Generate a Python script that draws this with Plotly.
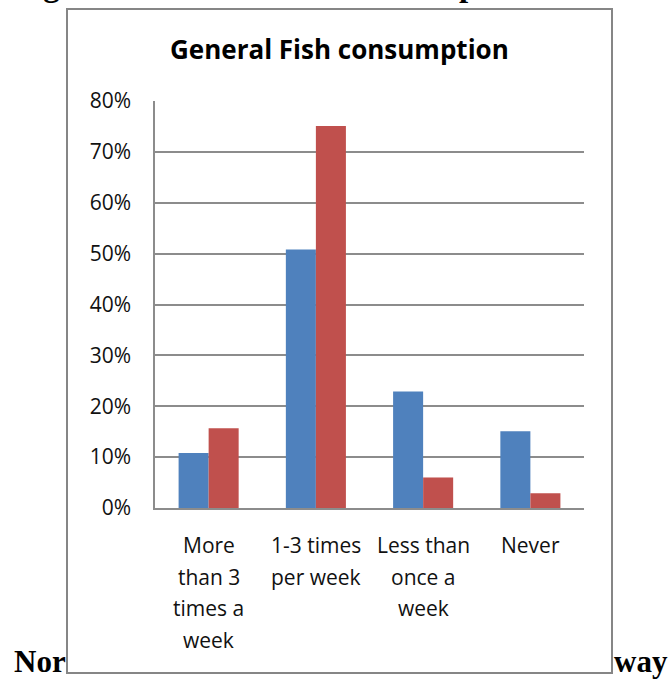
import plotly.graph_objects as go

# Survey answers: how often fish is eaten
categories = ["More than 3 times a week", "1-3 times per week", "Less than once a week", "Never"]
category_lines = [
    ["More", "than 3", "times a", "week"],
    ["1-3 times", "per week"],
    ["Less than", "once a", "week"],
    ["Never"],
]
series_a = [0.108, 0.508, 0.229, 0.151]
series_b = [0.157, 0.751, 0.060, 0.029]
y_ticks = [0, 0.1, 0.2, 0.3, 0.4, 0.5, 0.6, 0.7, 0.8]

W, H = 669, 680
L, R, T, B = 155, 85, 101, 172
PW, PH = W - L - R, H - T - B

def px(x):
    return (x - L) / PW

def py(y):
    return (H - B - y) / PH

FONT = "Open Sans"
GRID = "#8c8c8c"

fig = go.Figure()
fig.add_bar(x=categories, y=series_a, marker=dict(color="#4F81BD", line=dict(width=0)))
fig.add_bar(x=categories, y=series_b, marker=dict(color="#C0504D", line=dict(width=0)))

annotations = []
for cat, lines in zip(categories, category_lines):
    for j, line in enumerate(lines):
        annotations.append(dict(
            x=cat, y=0, xref="x", yref="y", text=line, showarrow=False,
            yanchor="middle", xanchor="center", yshift=-(37 + j * 31.7),
            font=dict(family=FONT, size=21, color="#111"),
        ))

# Chart title, centred in the framed box
annotations.append(dict(
    x=px(339.5), y=py(49), xref="paper", yref="paper", text="<b>General Fish consumption</b>",
    showarrow=False, xanchor="center", yanchor="middle",
    font=dict(family=FONT, size=26, color="#000"),
))

# Surrounding document text around the embedded chart
annotations.append(dict(
    x=px(12), y=py(-15), xref="paper", yref="paper",
    text="<b>Figure 1: General Fish Consumption and Sa</b>",
    showarrow=False, xanchor="left", yanchor="middle",
    font=dict(family="Liberation Serif", size=33, color="#000"),
))
serif = dict(family="Liberation Serif", size=31, color="#000")
annotations.append(dict(
    x=px(12), y=py(661), xref="paper", yref="paper", text="<b>Nor</b>",
    showarrow=False, xanchor="left", yanchor="middle", font=serif,
))
annotations.append(dict(
    x=px(612), y=py(661), xref="paper", yref="paper", text="<b>way</b>",
    showarrow=False, xanchor="left", yanchor="middle", font=serif,
))

fig.update_layout(
    width=W, height=H,
    margin=dict(l=L, r=R, t=T, b=B, autoexpand=False),
    paper_bgcolor="white", plot_bgcolor="white",
    barmode="group", bargap=0.44, bargroupgap=0,
    showlegend=False,
    annotations=annotations,
    shapes=[dict(
        type="rect", xref="paper", yref="paper",
        x0=px(67), x1=px(612), y0=py(673), y1=py(9),
        line=dict(color="#868686", width=2), fillcolor="rgba(0,0,0,0)", layer="below",
    )],
)
fig.update_xaxes(
    showticklabels=False, showline=True, linecolor=GRID, linewidth=1.5,
    showgrid=False, ticks="", zeroline=False,
)
fig.update_yaxes(
    range=[0, 0.8], tickvals=y_ticks, tickformat=".0%",
    showline=True, linecolor=GRID, linewidth=1.5,
    showgrid=True, gridcolor=GRID, gridwidth=1.5, zeroline=False,
    ticks="", ticklabelstandoff=18,
    tickfont=dict(family=FONT, size=21, color="#111"),
)

fig.write_html("out.html")
